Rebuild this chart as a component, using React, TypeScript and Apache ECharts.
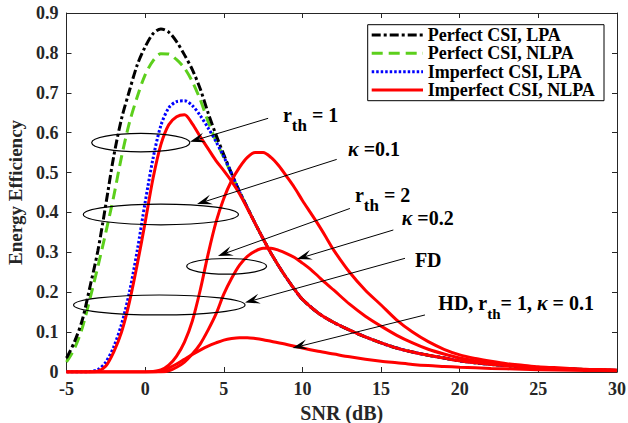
import React, { useEffect, useRef } from "react";
import * as echarts from "echarts";

// ---------------- data (SNR in dB, energy efficiency) ----------------
const perfectLPAHead: [number, number][] = [
  [-5, 0.035], [-4.5, 0.075], [-4, 0.13], [-3.5, 0.215], [-3, 0.305], [-2.5, 0.42],
  [-2, 0.54], [-1.5, 0.635], [-1, 0.705], [-0.5, 0.77], [0, 0.815], [0.5, 0.848],
  [1, 0.86], [1.5, 0.852], [2, 0.828], [2.5, 0.795], [3, 0.758], [3.5, 0.71],
  [4, 0.65], [4.5, 0.595], [5, 0.545], [5.5, 0.497], [6, 0.452], [6.5, 0.412],
];
const perfectNLPAHead: [number, number][] = [
  [-5, 0.025], [-4.5, 0.058], [-4, 0.11], [-3.5, 0.185], [-3, 0.265], [-2.5, 0.35],
  [-2, 0.44], [-1.5, 0.54], [-1, 0.625], [-0.5, 0.69], [0, 0.745], [0.5, 0.78],
  [1, 0.798], [1.5, 0.797], [2, 0.783], [2.5, 0.762], [3, 0.728], [3.5, 0.683],
  [4, 0.628], [4.5, 0.58], [5, 0.538], [5.5, 0.495], [6, 0.452], [6.5, 0.412],
];
const imperfectLPAHead: [number, number][] = [
  [-5, 0], [-4, 0], [-3.5, 0.001], [-3, 0.006], [-2.5, 0.025], [-2, 0.063],
  [-1.5, 0.12], [-1, 0.2], [-0.5, 0.305], [0, 0.425], [0.5, 0.535], [1, 0.618],
  [1.5, 0.662], [2, 0.678], [2.5, 0.68], [3, 0.668], [3.5, 0.643], [4, 0.612],
  [4.5, 0.578], [5, 0.54], [5.5, 0.497], [6, 0.452], [6.5, 0.412],
];
const nlpaRth1Head: [number, number][] = [
  [-5, 0], [-3.5, 0], [-3, 0.002], [-2.5, 0.015], [-2, 0.05], [-1.5, 0.1],
  [-1, 0.175], [-0.5, 0.27], [0, 0.375], [0.5, 0.485], [1, 0.57], [1.5, 0.62],
  [2, 0.64], [2.5, 0.645], [3, 0.622], [3.5, 0.59], [4, 0.56], [4.5, 0.53],
  [5, 0.505], [5.5, 0.478], [6, 0.447], [6.5, 0.41],
];
// common decaying part shared by the curves above once they merge
const mergedTail: [number, number][] = [
  [7, 0.372], [7.5, 0.334], [8, 0.298], [8.5, 0.265], [9, 0.235], [9.5, 0.207],
  [10, 0.182], [11, 0.148], [12, 0.124], [13, 0.105], [14, 0.088], [15, 0.073],
  [16, 0.06], [17, 0.05], [18, 0.042], [19, 0.035], [20, 0.028], [21, 0.023],
  [22, 0.019], [23, 0.016], [24, 0.013], [25, 0.011], [26, 0.009], [27, 0.008],
  [28, 0.006], [29, 0.005], [30, 0.004],
];
const nlpaKappa01: [number, number][] = [
  [-5, 0], [0, 0], [0.5, 0.001], [1, 0.005], [1.5, 0.017], [2, 0.04], [2.5, 0.075],
  [3, 0.128], [3.5, 0.205], [4, 0.295], [4.5, 0.375], [5, 0.435], [5.5, 0.48],
  [6, 0.513], [6.5, 0.538], [7, 0.55], [7.5, 0.55], [8, 0.538], [8.5, 0.517],
  [9, 0.49], [9.5, 0.462], [10, 0.43], [10.5, 0.4], [11, 0.37], [11.5, 0.338],
  [12, 0.305], [13, 0.25], [14, 0.205], [15, 0.168], [16, 0.13], [17, 0.1],
  [18, 0.076], [19, 0.057], [20, 0.043], [21, 0.034], [22, 0.027], [23, 0.021],
  [24, 0.017], [25, 0.013], [26, 0.011], [27, 0.009], [28, 0.007], [29, 0.006], [30, 0.005],
];
const nlpaKappa02: [number, number][] = [
  [-5, 0], [1, 0], [1.5, 0.003], [2, 0.012], [2.5, 0.025], [3, 0.045], [3.5, 0.07],
  [4, 0.105], [4.5, 0.145], [5, 0.195], [5.5, 0.235], [6, 0.268], [6.5, 0.29],
  [7, 0.303], [7.5, 0.31], [8, 0.31], [8.5, 0.305], [9, 0.297], [9.5, 0.287],
  [10, 0.273], [10.5, 0.258], [11, 0.24], [11.5, 0.222], [12, 0.205], [13, 0.17],
  [14, 0.14], [15, 0.115], [16, 0.092], [17, 0.073], [18, 0.057], [19, 0.045],
  [20, 0.035], [21, 0.028], [22, 0.022], [23, 0.017], [24, 0.014], [25, 0.011],
  [26, 0.009], [27, 0.007], [28, 0.006], [29, 0.005], [30, 0.004],
];
const nlpaHD: [number, number][] = [
  [-5, 0], [0.5, 0], [1, 0.003], [1.5, 0.01], [2, 0.02], [2.5, 0.032], [3, 0.044],
  [3.5, 0.055], [4, 0.065], [4.5, 0.073], [5, 0.08], [5.5, 0.084], [6, 0.086],
  [6.5, 0.086], [7, 0.084], [7.5, 0.081], [8, 0.077], [9, 0.069], [10, 0.06],
  [11, 0.052], [12, 0.045], [13, 0.038], [14, 0.032], [15, 0.027], [16, 0.023],
  [17, 0.019], [18, 0.016], [19, 0.014], [20, 0.012], [22, 0.009], [24, 0.007],
  [26, 0.005], [28, 0.004], [30, 0.003],
];

const legendNames = [
  "Perfect CSI, LPA",
  "Perfect CSI, NLPA",
  "Imperfect CSI, LPA",
  "Imperfect CSI, NLPA",
];

// annotations, in data coordinates (SNR, EE)
const ellipses = [
  { x: -0.28, y: 0.575, rx: 3.12, ry: 0.023 },
  { x: 1.0, y: 0.395, rx: 4.93, ry: 0.026 },
  { x: 5.18, y: 0.265, rx: 2.54, ry: 0.0196 },
  { x: 0.9, y: 0.168, rx: 5.45, ry: 0.025 },
];
const arrows = [
  { from: [7.82, 0.636], to: [2.85, 0.577] },
  { from: [12.18, 0.533], to: [3.3, 0.421] },
  { from: [13.02, 0.41], to: [4.63, 0.291] },
  { from: [15.78, 0.356], to: [9.65, 0.283] },
  { from: [16.52, 0.285], to: [6.35, 0.174] },
  { from: [17.79, 0.143], to: [9.37, 0.06] },
];
const notes = [
  { at: [8.76, 0.644], text: "{n|r}{s|th}{n| = 1}" },
  { at: [12.9, 0.558], text: "{k|κ}{n| =0.1}" },
  { at: [13.34, 0.444], text: "{n|r}{s|th}{n| = 2}" },
  { at: [16.31, 0.385], text: "{k|κ}{n| =0.2}" },
  { at: [17.15, 0.281], text: "{n|FD}" },
  { at: [18.64, 0.172], text: "{n|HD, r}{t|th}{n|= 1, }{k|κ}{n| = 0.1}" },
];

const FONT = '"Liberation Serif", "Times New Roman", serif';
const AX = "#262626";

const STYLES = [
  { color: "#000000", dash: [9, 3, 3, 3] as any, width: 3 },
  { color: "#5ccf1c", dash: [11, 6] as any, width: 3 },
  { color: "#0000ff", dash: [2.5, 2] as any, width: 3 },
  { color: "#ff0000", dash: "solid" as any, width: 3 },
];

export default function App() {
  const ref = useRef<HTMLDivElement>(null);
  useEffect(() => {
    if (!ref.current) return;
    const chart = echarts.init(ref.current, undefined, { renderer: "svg" });

    const line = (idx: number, data: any, z: number) => ({
      type: "line",
      name: legendNames[idx],
      data,
      symbol: "none",
      smooth: 0.3,
      z,
      lineStyle: { color: STYLES[idx].color, width: STYLES[idx].width, type: STYLES[idx].dash, cap: "butt" },
      itemStyle: { color: STYLES[idx].color },
      emphasis: { disabled: true },
      animation: false,
    });

    const axisCommon = {
      axisLine: { show: true, onZero: false, lineStyle: { color: AX, width: 1 } },
      axisTick: { show: true, inside: true, length: 5, lineStyle: { color: AX, width: 1 } },
      splitLine: { show: false },
    };

    chart.setOption({
      animation: false,
      backgroundColor: "#fff",
      grid: { left: 66.5, right: 11, top: 13, bottom: 51, containLabel: false, outerBoundsMode: "none" },
      xAxis: [
        {
          type: "value", min: -5, max: 30, interval: 5, position: "bottom",
          ...axisCommon,
          axisLabel: { fontFamily: FONT, fontWeight: "bold", fontSize: 18, color: AX, margin: 8 },
          name: "SNR (dB)", nameLocation: "middle", nameGap: 18,
          nameTextStyle: { fontFamily: FONT, fontWeight: "bold", fontSize: 20, color: AX, lineHeight: 20 },
        },
        {
          type: "value", min: -5, max: 30, interval: 5, position: "top",
          ...axisCommon, axisLabel: { show: false },
        },
      ],
      yAxis: [
        {
          type: "value", min: 0, max: 0.9, interval: 0.1, position: "left",
          ...axisCommon,
          axisLabel: { fontFamily: FONT, fontWeight: "bold", fontSize: 18, color: AX, margin: 8 },
          name: "Energy Efficiency", nameLocation: "middle", nameGap: 39,
          nameTextStyle: { fontFamily: FONT, fontWeight: "bold", fontSize: 19, color: AX },
        },
        {
          type: "value", min: 0, max: 0.9, interval: 0.1, position: "right",
          ...axisCommon, axisLabel: { show: false },
        },
      ],
      series: [
        line(1, [...perfectNLPAHead, ...mergedTail], 2),
        line(0, [...perfectLPAHead, ...mergedTail], 3),
        line(2, [...imperfectLPAHead, ...mergedTail], 4),
        line(3, [...nlpaRth1Head, ...mergedTail], 5),
        line(3, nlpaKappa01, 5),
        line(3, nlpaKappa02, 5),
        line(3, nlpaHD, 5),
      ],
    });

    const toPx = (p: number[]) =>
      chart.convertToPixel({ xAxisIndex: 0, yAxisIndex: 0 } as any, p) as number[];

    const g: any[] = [];
    ellipses.forEach((e) => {
      const c = toPx([e.x, e.y]);
      const rx = toPx([e.x + e.rx, e.y])[0] - c[0];
      const ry = c[1] - toPx([e.x, e.y + e.ry])[1];
      g.push({
        type: "ellipse", z: 20,
        shape: { cx: c[0], cy: c[1], rx, ry },
        style: { fill: "none", stroke: "#000", lineWidth: 1.2 },
      });
    });
    arrows.forEach((a) => {
      const t = toPx(a.from);
      const h = toPx(a.to);
      const dx = h[0] - t[0];
      const dy = h[1] - t[1];
      const len = Math.hypot(dx, dy);
      const ux = dx / len, uy = dy / len;
      const nx = -uy, ny = ux;
      const L = 15, W = 5, N = 9;
      const notch = [h[0] - ux * N, h[1] - uy * N];
      g.push({
        type: "line", z: 20,
        shape: { x1: t[0], y1: t[1], x2: notch[0], y2: notch[1] },
        style: { stroke: "#000", lineWidth: 1 },
      });
      g.push({
        type: "polygon", z: 20,
        shape: {
          points: [
            h,
            [h[0] - ux * L + nx * W, h[1] - uy * L + ny * W],
            notch,
            [h[0] - ux * L - nx * W, h[1] - uy * L - ny * W],
          ],
        },
        style: { fill: "#000", stroke: "none" },
      });
    });
    notes.forEach((n) => {
      const p = toPx(n.at);
      g.push({
        type: "text", z: 21,
        x: p[0], y: p[1] - 10,
        style: {
          text: n.text,
          align: "left",
          verticalAlign: "top",
          fill: "#000",
          rich: {
            n: { fontFamily: FONT, fontWeight: "bold", fontSize: 20, lineHeight: 20, verticalAlign: "top", fill: "#000" },
            k: { fontFamily: FONT, fontWeight: "bold", fontStyle: "italic", fontSize: 20, lineHeight: 20, verticalAlign: "top", fill: "#000" },
            s: { fontFamily: FONT, fontWeight: "bold", fontSize: 17, lineHeight: 29, verticalAlign: "bottom", fill: "#000" },
            t: { fontFamily: FONT, fontWeight: "bold", fontSize: 15, lineHeight: 28, verticalAlign: "bottom", fill: "#000" },
          },
        },
      });
    });

    // legend box (drawn as graphic so the line samples keep their dash pattern)
    const LX = 367.7, LY = 24.7, LW = 236.3, LH = 76;
    g.push({
      type: "rect", z: 30,
      shape: { x: LX, y: LY, width: LW, height: LH },
      style: { fill: "#fff", stroke: "#000", lineWidth: 1 },
    });
    legendNames.forEach((name, i) => {
      const cy = LY + 10.3 + i * 18.35;
      const st = STYLES[i];
      g.push({
        type: "line", z: 31,
        shape: { x1: LX + 4, y1: cy, x2: LX + 55.3, y2: cy },
        style: {
          stroke: st.color, lineWidth: st.width,
          lineDash: st.dash === "solid" ? null : st.dash, lineCap: "butt",
        },
      });
      g.push({
        type: "text", z: 31,
        x: LX + 60, y: cy,
        style: {
          text: name, fill: "#000", align: "left", verticalAlign: "middle",
          fontFamily: FONT, fontWeight: "bold", fontSize: 18,
        },
      });
    });

    chart.setOption({ graphic: g });

    return () => chart.dispose();
  }, []);

  return (
    <div
      ref={ref}
      style={{ position: "absolute", left: 0, top: 0, width: 628, height: 423, background: "#fff" }}
    />
  );
}
